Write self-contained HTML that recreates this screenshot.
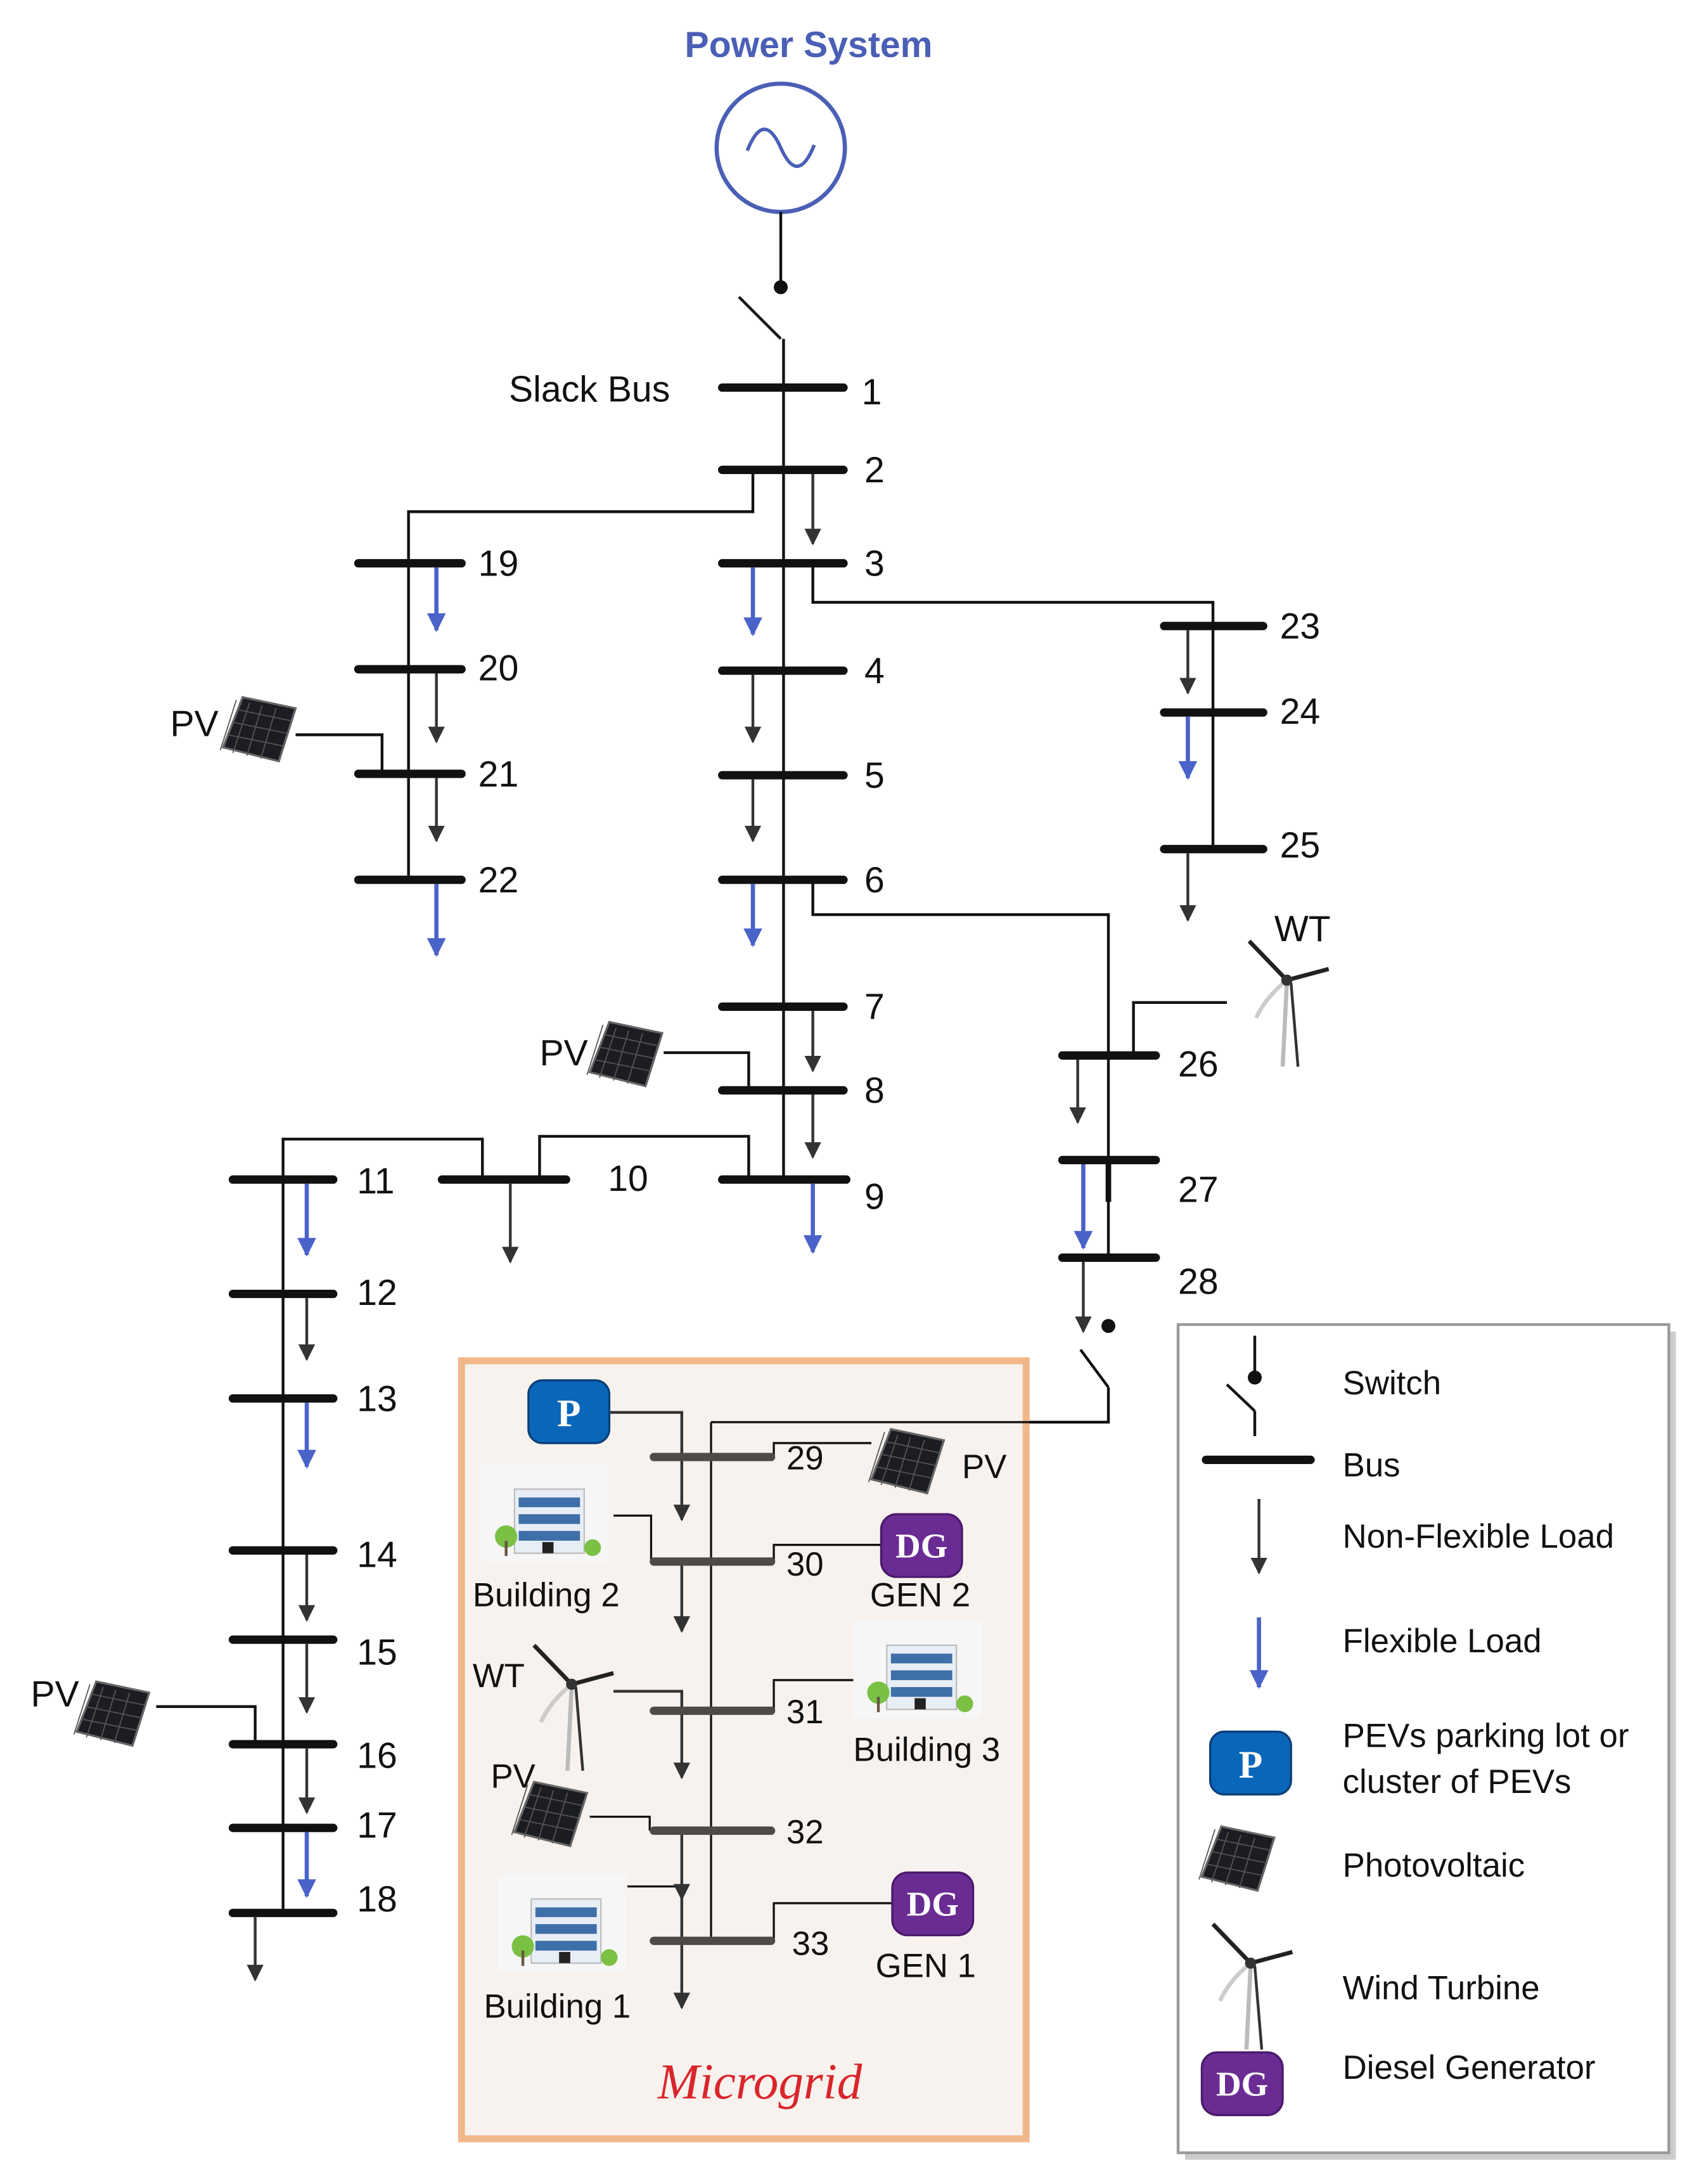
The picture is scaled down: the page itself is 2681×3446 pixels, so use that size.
<!DOCTYPE html>
<html><head><meta charset="utf-8"><style>
html,body{margin:0;padding:0;background:#fff}
svg{display:block}
text{font-family:"Liberation Sans",sans-serif;fill:#111}
</style></head><body>
<svg width="2681" height="3446" viewBox="0 0 1218.6 1566.4" xmlns="http://www.w3.org/2000/svg">
<defs>
<marker id="ag" viewBox="0 0 10 10" refX="9" refY="5" markerWidth="6" markerHeight="6" orient="auto" markerUnits="strokeWidth"><path d="M0,0 L10,5 L0,10 z" fill="#333"/></marker>
<marker id="ab" viewBox="0 0 10 10" refX="9" refY="5" markerWidth="4.5" markerHeight="4.5" orient="auto" markerUnits="strokeWidth"><path d="M0,0 L10,5 L0,10 z" fill="#4a63c8"/></marker>
<g id="pv"><polygon points="0,36 14,0 52,8 40,46" fill="#1b1d22" stroke="#666" stroke-width="1.5"/>
<g stroke="#555" stroke-width="0.8"><line x1="3.5" y1="27" x2="43" y2="35"/><line x1="7" y1="18" x2="46" y2="26"/><line x1="10.5" y1="9" x2="49" y2="17"/><line x1="9.5" y1="2" x2="-2" y2="38"/><line x1="19" y1="4" x2="7" y2="40"/><line x1="28" y1="6" x2="17" y2="42"/><line x1="38" y1="8" x2="27" y2="44"/></g></g>
<g id="wt"><line x1="30" y1="30" x2="27" y2="90" stroke="#bbb" stroke-width="3"/><line x1="33" y1="30" x2="38" y2="90" stroke="#333" stroke-width="2"/>
<line x1="30" y1="28" x2="3" y2="0" stroke="#222" stroke-width="3"/><line x1="30" y1="28" x2="60" y2="20" stroke="#222" stroke-width="3"/><path d="M30,28 Q15,40 8,55" stroke="#ccc" stroke-width="3" fill="none"/><circle cx="30" cy="28" r="4" fill="#333"/></g>
<g id="bld"><rect x="0" y="0" width="92" height="70" fill="#f6f6f6"/><rect x="24" y="18" width="50" height="46" fill="#e8eef5" stroke="#bbb"/>
<g fill="#3f6fa8"><rect x="27" y="24" width="44" height="7"/><rect x="27" y="36" width="44" height="7"/><rect x="27" y="48" width="44" height="7"/></g><rect x="44" y="56" width="8" height="8" fill="#222"/>
<circle cx="18" cy="52" r="8" fill="#7ac143"/><line x1="18" y1="55" x2="18" y2="66" stroke="#654" stroke-width="2"/><circle cx="80" cy="60" r="6" fill="#7ac143"/></g>
<g id="P"><rect x="0" y="0" width="58" height="45" rx="10" fill="#0a66b8" stroke="#0a3f78" stroke-width="1.5"/><text x="29" y="33" text-anchor="middle" style="font-family:'Liberation Serif',serif;font-weight:bold;font-size:28px;fill:#fff">P</text></g>
<g id="DG"><rect x="0" y="0" width="58" height="45" rx="11" fill="#6a2b93" stroke="#4a1a6a" stroke-width="1.5"/><text x="29" y="31" text-anchor="middle" style="font-family:'Liberation Serif',serif;font-weight:bold;font-size:25px;fill:#fff">DG</text></g>
</defs>

<text x="580" y="41" text-anchor="middle" style="font-size:26px;font-weight:bold;fill:#4a5fb5">Power System</text>
<circle cx="560" cy="106" r="46" fill="#fff" stroke="#4a5fb5" stroke-width="3"/>
<path d="M536,108 C544,88 552,88 560,106 C568,124 576,124 584,104" fill="none" stroke="#4a5fb5" stroke-width="2.5"/>
<g stroke="#111" stroke-width="2" fill="none">
<line x1="560" y1="152" x2="560" y2="206"/>
<line x1="530" y1="213" x2="560" y2="243"/>
<line x1="562" y1="243" x2="562" y2="846"/>
<polyline points="540,337 540,367 293,367 293,631"/>
<polyline points="212,527 274,527 274,555"/>
<polyline points="583,404 583,432 870,432 870,609"/>
<polyline points="583,631 583,656 795,656 795,902"/>
<polyline points="880,719 813,719 813,757"/>
<polyline points="476,755 537,755 537,782"/>
<polyline points="537,846 537,815 387,815 387,846"/>
<polyline points="346,846 346,817 203,817 203,1372"/>
<polyline points="112,1224 183,1224 183,1251"/>
<line x1="775" y1="968" x2="795" y2="995"/>
<polyline points="795,995 795,1020 510,1020 510,1392"/>
</g>
<circle cx="560" cy="206" r="5" fill="#111"/>
<circle cx="795" cy="951" r="5" fill="#111"/>
<line x1="795" y1="832" x2="795" y2="862" stroke="#111" stroke-width="4"/>

<g stroke="#111" stroke-width="6" stroke-linecap="round">
<line x1="518" y1="278" x2="605" y2="278"/><line x1="518" y1="337" x2="605" y2="337"/><line x1="518" y1="404" x2="605" y2="404"/>
<line x1="518" y1="481" x2="605" y2="481"/><line x1="518" y1="556" x2="605" y2="556"/><line x1="518" y1="631" x2="605" y2="631"/>
<line x1="518" y1="722" x2="605" y2="722"/><line x1="518" y1="782" x2="605" y2="782"/><line x1="518" y1="846" x2="607" y2="846"/>
<line x1="257" y1="404" x2="331" y2="404"/><line x1="257" y1="480" x2="331" y2="480"/><line x1="257" y1="555" x2="331" y2="555"/><line x1="257" y1="631" x2="331" y2="631"/>
<line x1="835" y1="449" x2="906" y2="449"/><line x1="835" y1="511" x2="906" y2="511"/><line x1="835" y1="609" x2="906" y2="609"/>
<line x1="762" y1="757" x2="829" y2="757"/><line x1="762" y1="832" x2="829" y2="832"/><line x1="762" y1="902" x2="829" y2="902"/>
<line x1="317" y1="846" x2="406" y2="846"/>
<line x1="167" y1="846" x2="239" y2="846"/><line x1="167" y1="928" x2="239" y2="928"/><line x1="167" y1="1003" x2="239" y2="1003"/>
<line x1="167" y1="1112" x2="239" y2="1112"/><line x1="167" y1="1176" x2="239" y2="1176"/><line x1="167" y1="1251" x2="239" y2="1251"/>
<line x1="167" y1="1311" x2="239" y2="1311"/><line x1="167" y1="1372" x2="239" y2="1372"/>
</g>
<g stroke="#333" stroke-width="2" marker-end="url(#ag)">
<line x1="583" y1="340" x2="583" y2="390"/><line x1="540" y1="484" x2="540" y2="532"/><line x1="540" y1="559" x2="540" y2="603"/>
<line x1="583" y1="725" x2="583" y2="768"/><line x1="583" y1="785" x2="583" y2="830"/>
<line x1="313" y1="483" x2="313" y2="532"/><line x1="313" y1="558" x2="313" y2="603"/>
<line x1="852" y1="452" x2="852" y2="497"/><line x1="852" y1="612" x2="852" y2="660"/>
<line x1="773" y1="760" x2="773" y2="805"/><line x1="777" y1="905" x2="777" y2="955"/>
<line x1="366" y1="849" x2="366" y2="905"/>
<line x1="220" y1="931" x2="220" y2="975"/><line x1="220" y1="1115" x2="220" y2="1162"/><line x1="220" y1="1179" x2="220" y2="1228"/><line x1="220" y1="1254" x2="220" y2="1300"/>
<line x1="183" y1="1375" x2="183" y2="1420"/>
</g>
<g stroke="#4a63c8" stroke-width="3" marker-end="url(#ab)">
<line x1="540" y1="407" x2="540" y2="455"/><line x1="540" y1="634" x2="540" y2="678"/><line x1="583" y1="849" x2="583" y2="898"/>
<line x1="313" y1="407" x2="313" y2="452"/><line x1="313" y1="634" x2="313" y2="685"/>
<line x1="852" y1="514" x2="852" y2="558"/><line x1="777" y1="835" x2="777" y2="895"/>
<line x1="220" y1="849" x2="220" y2="900"/><line x1="220" y1="1006" x2="220" y2="1052"/><line x1="220" y1="1314" x2="220" y2="1360"/>
</g>
<g style="font-size:26px">
<text x="365" y="288">Slack Bus</text>
<text x="618" y="290">1</text><text x="620" y="346">2</text><text x="620" y="413">3</text><text x="620" y="490">4</text><text x="620" y="565">5</text>
<text x="620" y="640">6</text><text x="620" y="731">7</text><text x="620" y="791">8</text><text x="620" y="867">9</text>
<text x="343" y="413">19</text><text x="343" y="488">20</text><text x="343" y="564">21</text><text x="343" y="640">22</text>
<text x="918" y="458">23</text><text x="918" y="519">24</text><text x="918" y="615">25</text>
<text x="845" y="772">26</text><text x="845" y="862">27</text><text x="845" y="928">28</text>
<text x="436" y="854">10</text>
<text x="256" y="856">11</text><text x="256" y="936">12</text><text x="256" y="1012">13</text><text x="256" y="1124">14</text>
<text x="256" y="1194">15</text><text x="256" y="1268">16</text><text x="256" y="1318">17</text><text x="256" y="1371">18</text>
<text x="122" y="528">PV</text><text x="387" y="764">PV</text><text x="914" y="675">WT</text><text x="22" y="1224">PV</text>
</g>
<use href="#pv" x="160" y="500"/>
<use href="#pv" x="423" y="733"/>
<use href="#pv" x="55" y="1206"/>
<use href="#wt" x="893" y="675"/>

<rect x="331" y="976" width="405" height="558" fill="#f7f2ee" stroke="#f0b88a" stroke-width="5"/>
<g stroke="#111" stroke-width="1.5" fill="none">
<line x1="510" y1="1020" x2="795" y2="1020"/>
<line x1="510" y1="1020" x2="510" y2="1392"/>
<polyline points="555,1045 555,1035 625,1035"/>
<polyline points="555,1120 555,1108 632,1108"/>
<polyline points="440,1087 467,1087 467,1120"/>
<polyline points="555,1227 555,1205 612,1205"/>
<polyline points="423,1303 466,1303 466,1313"/>
<polyline points="555,1392 555,1365 640,1365"/>
<line x1="450" y1="1353" x2="489" y2="1353"/>
</g>
<g stroke="#333" stroke-width="2" marker-end="url(#ag)">
<polyline points="437,1013 489,1013 489,1090" fill="none"/>
<line x1="489" y1="1120" x2="489" y2="1170"/>
<polyline points="440,1213 489,1213 489,1275" fill="none"/>
<line x1="489" y1="1313" x2="489" y2="1362"/>
<line x1="489" y1="1362" x2="489" y2="1440"/>
</g>
<g stroke="#4d4a47" stroke-width="6" stroke-linecap="round">
<line x1="469" y1="1045" x2="553" y2="1045"/><line x1="469" y1="1120" x2="553" y2="1120"/><line x1="469" y1="1227" x2="553" y2="1227"/>
<line x1="469" y1="1313" x2="553" y2="1313"/><line x1="469" y1="1392" x2="553" y2="1392"/>
</g>
<use href="#P" x="379" y="990"/>
<use href="#bld" x="345" y="1050"/>
<use href="#pv" x="625" y="1025"/>
<use href="#DG" x="632" y="1086"/>
<use href="#bld" x="612" y="1162"/>
<use href="#wt" x="380" y="1180"/>
<use href="#pv" x="369" y="1278"/>
<use href="#bld" x="357" y="1344"/>
<use href="#DG" x="640" y="1343"/>
<g style="font-size:24px">
<text x="564" y="1054">29</text><text x="564" y="1130">30</text><text x="564" y="1236">31</text><text x="564" y="1322">32</text><text x="568" y="1402">33</text>
<text x="690" y="1060">PV</text><text x="339" y="1152">Building 2</text><text x="624" y="1152">GEN 2</text>
<text x="339" y="1210">WT</text><text x="612" y="1263">Building 3</text><text x="352" y="1282">PV</text>
<text x="347" y="1447">Building 1</text><text x="628" y="1418">GEN 1</text>
</g>
<text x="545" y="1505" text-anchor="middle" style="font-family:'Liberation Serif',serif;font-style:italic;font-size:36px;fill:#d9262b">Microgrid</text>

<rect x="850" y="955" width="352" height="594" fill="#ccc"/>
<rect x="845" y="950" width="352" height="594" fill="#fff" stroke="#999" stroke-width="2"/>
<g stroke="#111" stroke-width="2" fill="none">
<line x1="900" y1="958" x2="900" y2="988"/><line x1="880" y1="993" x2="900" y2="1012"/><line x1="900" y1="1012" x2="900" y2="1030"/>
</g>
<circle cx="900" cy="988" r="5" fill="#111"/>
<line x1="865" y1="1047" x2="940" y2="1047" stroke="#111" stroke-width="6" stroke-linecap="round"/>
<line x1="903" y1="1075" x2="903" y2="1128" stroke="#333" stroke-width="2" marker-end="url(#ag)"/>
<line x1="903" y1="1160" x2="903" y2="1210" stroke="#4a63c8" stroke-width="3" marker-end="url(#ab)"/>
<use href="#P" x="868" y="1242"/>
<use href="#pv" x="862" y="1310"/>
<use href="#wt" x="867" y="1380"/>
<use href="#DG" x="862" y="1472"/>
<g style="font-size:24px">
<text x="963" y="1000">Switch</text><text x="963" y="1059">Bus</text><text x="963" y="1110">Non-Flexible Load</text>
<text x="963" y="1185">Flexible Load</text><text x="963" y="1253">PEVs parking lot or</text><text x="963" y="1286">cluster of PEVs</text>
<text x="963" y="1346">Photovoltaic</text><text x="963" y="1434">Wind Turbine</text><text x="963" y="1491">Diesel Generator</text>
</g>
</svg>
</body></html>
